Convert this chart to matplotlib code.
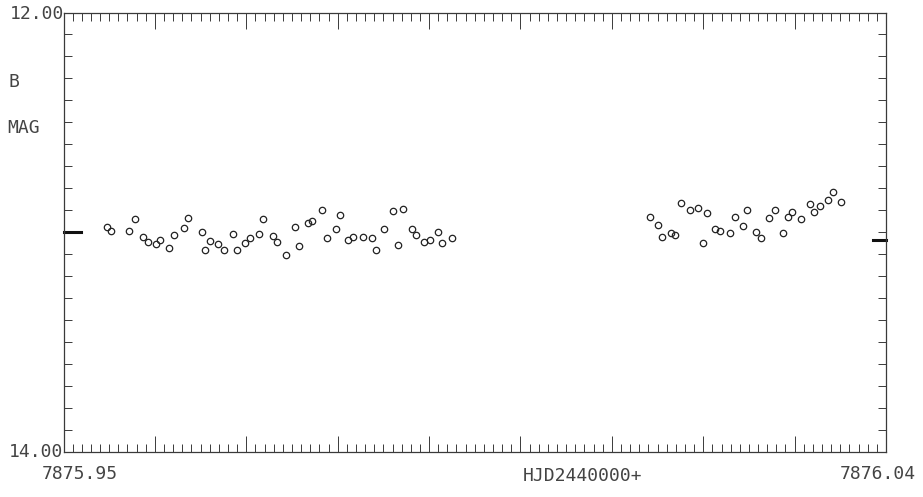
import numpy as np
import matplotlib
matplotlib.use('Agg')
import matplotlib.pyplot as plt
from matplotlib.ticker import MultipleLocator
import matplotlib.transforms as mtrans

# B-band photometry, HJD - 2440000
hjd = [7875.95474, 7875.95522, 7875.95718, 7875.95784, 7875.95875, 7875.95922,
       7875.96009, 7875.96058, 7875.96159, 7875.96214, 7875.96323, 7875.96367,
       7875.96512, 7875.96550, 7875.96608, 7875.96695, 7875.96761, 7875.96856,
       7875.96903, 7875.96987, 7875.97045, 7875.97140, 7875.97187, 7875.97297,
       7875.97340, 7875.97431, 7875.97534, 7875.97578, 7875.97672, 7875.97715,
       7875.97832, 7875.97879, 7875.97978, 7875.98026, 7875.98117, 7875.98171,
       7875.98281, 7875.98372, 7875.98415, 7875.98510, 7875.98609, 7875.98656,
       7875.98711, 7875.98809, 7875.98853, 7875.98948, 7875.99010, 7875.99101,
       7875.99145, 7875.99254,
       7876.01416, 7876.01507, 7876.01551, 7876.01646, 7876.01696, 7876.01762,
       7876.01854, 7876.01944, 7876.01999, 7876.02043, 7876.02134, 7876.02182,
       7876.02291, 7876.02346, 7876.02436, 7876.02484, 7876.02575, 7876.02630,
       7876.02721, 7876.02783, 7876.02874, 7876.02929, 7876.02976, 7876.03067,
       7876.03166, 7876.03210, 7876.03275, 7876.03366, 7876.03421, 7876.03511]
bmag = [12.975, 12.995, 12.995, 12.939, 13.021, 13.044, 13.053, 13.036, 13.072,
        13.013, 12.980, 12.934, 13.001, 13.079, 13.041, 13.053, 13.079, 13.009,
        13.079, 13.049, 13.028, 13.010, 12.939, 13.016, 13.044, 13.105, 12.975,
        13.064, 12.959, 12.949, 12.901, 13.026, 12.987, 12.921, 13.033, 13.021,
        13.021, 13.028, 13.079, 12.987, 12.903, 13.056, 12.893, 12.987, 13.013,
        13.044, 13.036, 13.001, 13.051, 13.026,
        12.929, 12.967, 13.021, 13.005, 13.013, 12.865, 12.899, 12.891, 13.049,
        12.913, 12.987, 12.993, 13.005, 12.932, 12.972, 12.901, 12.998, 13.028,
        12.936, 12.901, 13.003, 12.932, 12.906, 12.941, 12.871, 12.910, 12.879,
        12.853, 12.819, 12.861]
# reference magnitude marks on the left / right axis
ref_left = 13.00
ref_right = 13.035

XMIN, XMAX = 7875.95, 7876.04
YMIN, YMAX = 12.00, 14.00

ink = '#3a3a3a'
plt.rcParams['font.family'] = ['DejaVu Sans Mono', 'DejaVu Sans']

W, H = 923, 497
fig = plt.figure(figsize=(W / 100, H / 100), dpi=100)
ax = fig.add_axes([63.5 / W, 1 - 452 / H, 822.5 / W, 439.5 / H])

ax.plot(hjd, bmag, 'o', ms=4.6, mfc='none', mec='#222222', mew=0.9)

ax.set_xlim(XMIN, XMAX)
ax.set_ylim(YMAX, YMIN)

ax.xaxis.set_major_locator(MultipleLocator(0.01))
ax.xaxis.set_minor_locator(MultipleLocator(0.001))
ax.yaxis.set_major_locator(MultipleLocator(0.1))
ax.tick_params(axis='both', which='both', direction='in', top=True, right=True,
               labelbottom=False, labelleft=False, color=ink)
ax.tick_params(axis='x', which='major', length=11.5, width=0.7)
ax.tick_params(axis='x', which='minor', length=5.5, width=0.7)
ax.tick_params(axis='y', which='major', length=6, width=0.7)
for s in ax.spines.values():
    s.set_color(ink)
    s.set_linewidth(0.9)

# thick marks at the axes
tr = mtrans.blended_transform_factory(ax.transAxes, ax.transData)
ax.plot([0, 0.021], [ref_left, ref_left], color='#111111', lw=2.2, transform=tr, clip_on=False)
ax.plot([0.984, 1.0], [ref_right, ref_right], color='#111111', lw=2.2, transform=tr, clip_on=False)

def px(x, y, s, ha='left'):
    fig.text(x / W, 1 - y / H, s, ha=ha, va='center', fontsize=13, color='#444444')

px(64, 14, f'{YMIN:.2f}', ha='right')
px(63, 452, f'{YMAX:.2f}', ha='right')
px(80, 474, f'{XMIN:.2f}', ha='center')
px(878, 474, f'{XMAX:.2f}', ha='center')
px(583, 476, 'HJD2440000+', ha='center')
px(8, 82, 'B')
px(7, 128, 'MAG')

fig.savefig('out.png', dpi=100, facecolor='white')
plt.close()
